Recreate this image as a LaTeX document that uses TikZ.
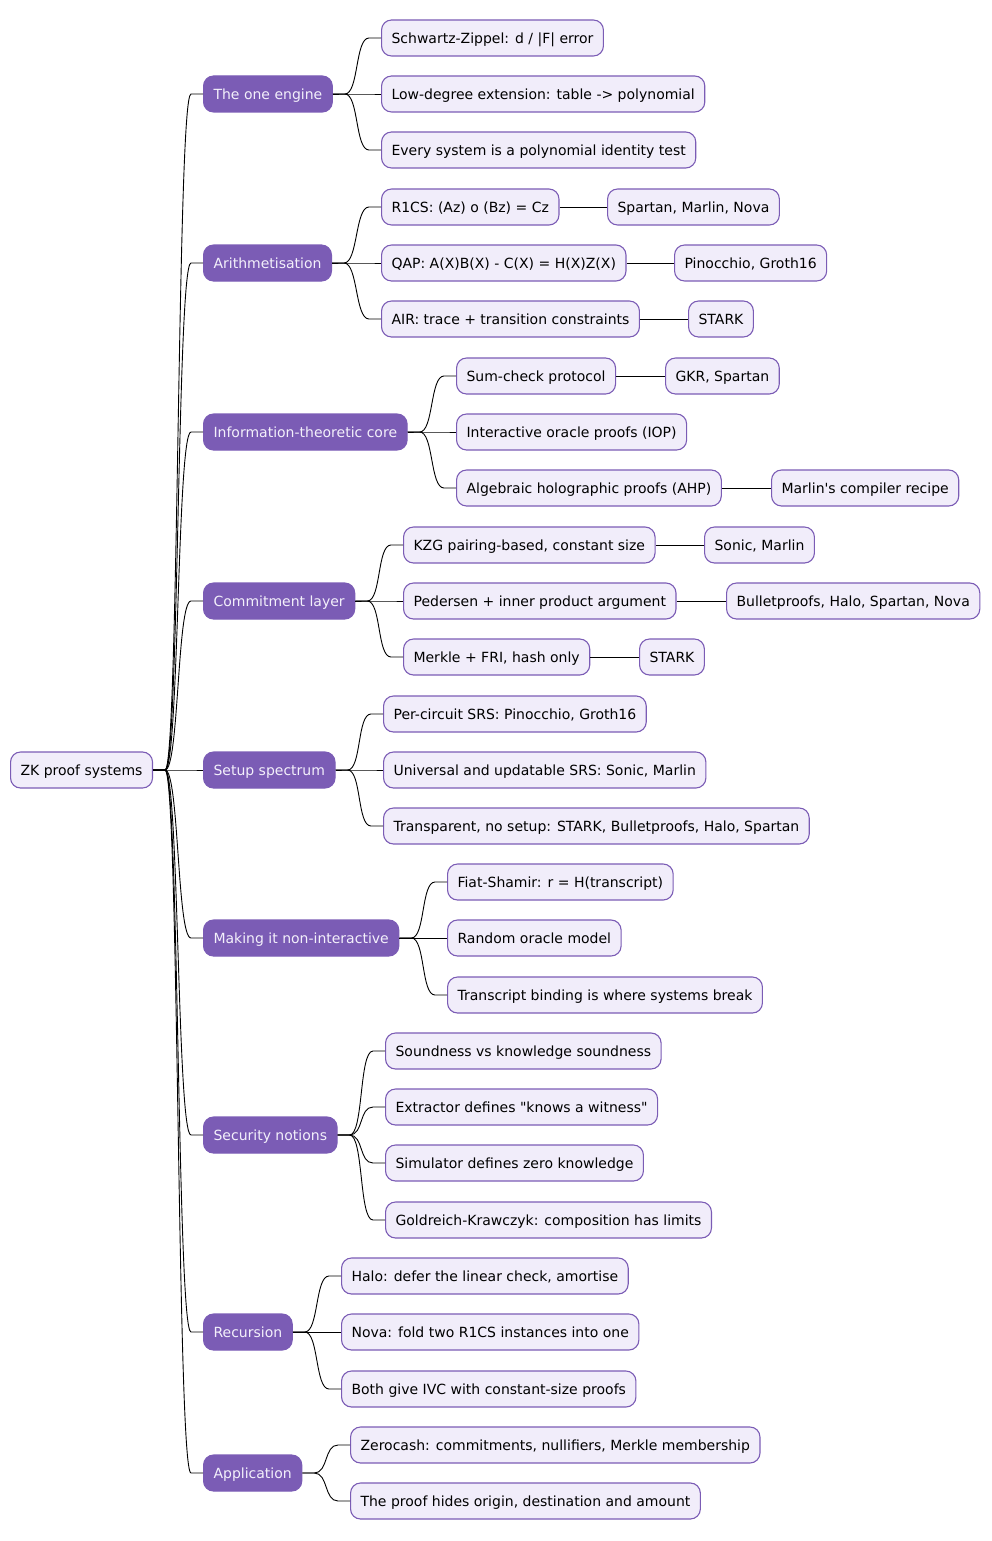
\documentclass[tikz,border=0pt]{standalone}
\usepackage{fontspec}
\setmainfont{DejaVu Sans}[Ligatures=TeXOff]
\definecolor{mmpurple}{HTML}{7B5CB5}
\definecolor{mmlight}{HTML}{F1EDFA}
\definecolor{mmtext}{HTML}{F3F0FB}
\tikzset{
  box/.style={rounded corners=10pt, minimum height=36pt, inner xsep=10pt, inner ysep=0pt,
    text height=11.5pt, text depth=1.3pt, font=\fontsize{14}{16}\selectfont, anchor=west, line width=1.1pt},
  leaf/.style={box, draw=mmpurple, fill=mmlight, text=black},
  branch/.style={box, draw=mmpurple, fill=mmpurple, text=mmtext},
  conn/.style={draw=black, line width=0.9pt},
}
\newcommand{\mmcurve}[2]{\draw[conn] (#1.east) -- ++(12,0) .. controls +(14,0) and +(-14,0) .. ([xshift=-12pt]#2.west) -- (#2.west);}
\newcommand{\mmline}[2]{\draw[conn] (#1.east) -- (#2.west);}
\begin{document}
\begin{tikzpicture}[x=1pt,y=-1pt]
\useasboundingbox (0,0) rectangle (991,1541);
% root
\node[leaf] (root) at (10,770) {ZK proof systems};
% level 1
\node[branch] (b1) at (203,94) {The one engine};
\node[branch] (b2) at (203,263) {Arithmetisation};
\node[branch] (b3) at (203,432) {Information-theoretic core};
\node[branch] (b4) at (203,601) {Commitment layer};
\node[branch] (b5) at (203,770) {Setup spectrum};
\node[branch] (b6) at (203,938) {Making it non-interactive};
\node[branch] (b7) at (203,1135) {Security notions};
\node[branch] (b8) at (203,1332) {Recursion};
\node[branch] (b9) at (203,1473) {Application};
% level 2
\node[leaf] (c11) at (381,38) {Schwartz-Zippel: d / |F| error};
\node[leaf] (c12) at (381,94) {Low-degree extension: table -> polynomial};
\node[leaf] (c13) at (381,150) {Every system is a polynomial identity test};
\node[leaf] (c21) at (381,207) {R1CS: (Az) o (Bz) = Cz};
\node[leaf] (c22) at (381,263) {QAP: A(X)B(X) - C(X) = H(X)Z(X)};
\node[leaf] (c23) at (381,319) {AIR: trace + transition constraints};
\node[leaf] (c31) at (456,376) {Sum-check protocol};
\node[leaf] (c32) at (456,432) {Interactive oracle proofs (IOP)};
\node[leaf] (c33) at (456,488) {Algebraic holographic proofs (AHP)};
\node[leaf] (c41) at (403,545) {KZG pairing-based, constant size};
\node[leaf] (c42) at (403,601) {Pedersen + inner product argument};
\node[leaf] (c43) at (403,657) {Merkle + FRI, hash only};
\node[leaf] (c51) at (383,714) {Per-circuit SRS: Pinocchio, Groth16};
\node[leaf] (c52) at (383,770) {Universal and updatable SRS: Sonic, Marlin};
\node[leaf] (c53) at (383,826) {Transparent, no setup: STARK, Bulletproofs, Halo, Spartan};
\node[leaf] (c61) at (447,882) {Fiat-Shamir: r = H(transcript)};
\node[leaf] (c62) at (447,938) {Random oracle model};
\node[leaf] (c63) at (447,995) {Transcript binding is where systems break};
\node[leaf] (c71) at (385,1051) {Soundness vs knowledge soundness};
\node[leaf] (c72) at (385,1107) {Extractor defines "knows a witness"};
\node[leaf] (c73) at (385,1163) {Simulator defines zero knowledge};
\node[leaf] (c74) at (385,1220) {Goldreich-Krawczyk: composition has limits};
\node[leaf] (c81) at (341,1276) {Halo: defer the linear check, amortise};
\node[leaf] (c82) at (341,1332) {Nova: fold two R1CS instances into one};
\node[leaf] (c83) at (341,1389) {Both give IVC with constant-size proofs};
\node[leaf] (c91) at (350,1445) {Zerocash: commitments, nullifiers, Merkle membership};
\node[leaf] (c92) at (350,1501) {The proof hides origin, destination and amount};
% level 3
\node[leaf] (d21) at (607,207) {Spartan, Marlin, Nova};
\node[leaf] (d22) at (674,263) {Pinocchio, Groth16};
\node[leaf] (d23) at (688,319) {STARK};
\node[leaf] (d31) at (665,376) {GKR, Spartan};
\node[leaf] (d33) at (771,488) {Marlin's compiler recipe};
\node[leaf] (d41) at (704,545) {Sonic, Marlin};
\node[leaf] (d42) at (726,601) {Bulletproofs, Halo, Spartan, Nova};
\node[leaf] (d43) at (639,657) {STARK};
% connectors
\foreach \b in {b1,b2,b3,b4,b5,b6,b7,b8,b9} {\mmcurve{root}{\b}}
\foreach \c in {c11,c12,c13} {\mmcurve{b1}{\c}}
\foreach \c in {c21,c22,c23} {\mmcurve{b2}{\c}}
\foreach \c in {c31,c32,c33} {\mmcurve{b3}{\c}}
\foreach \c in {c41,c42,c43} {\mmcurve{b4}{\c}}
\foreach \c in {c51,c52,c53} {\mmcurve{b5}{\c}}
\foreach \c in {c61,c62,c63} {\mmcurve{b6}{\c}}
\foreach \c in {c71,c72,c73,c74} {\mmcurve{b7}{\c}}
\foreach \c in {c81,c82,c83} {\mmcurve{b8}{\c}}
\foreach \c in {c91,c92} {\mmcurve{b9}{\c}}
\mmline{c21}{d21}
\mmline{c22}{d22}
\mmline{c23}{d23}
\mmline{c31}{d31}
\mmline{c33}{d33}
\mmline{c41}{d41}
\mmline{c42}{d42}
\mmline{c43}{d43}
\end{tikzpicture}
\end{document}
